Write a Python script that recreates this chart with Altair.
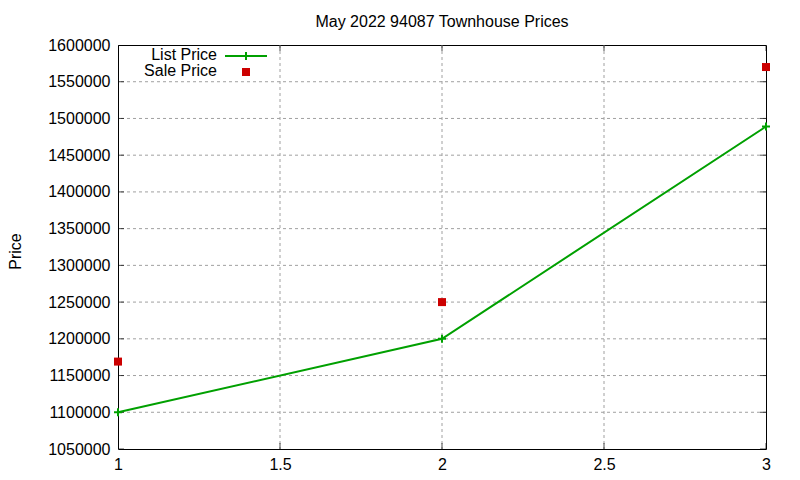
import altair as alt
import pandas as pd

# Data
x_vals = [1, 2, 3]
list_price = [1100000, 1200000, 1489000]
sale_price = [1169000, 1250000, 1570000]
series_names = ["List Price", "Sale Price"]
x_ticks = [1, 1.5, 2, 2.5, 3]
y_ticks = [1050000, 1100000, 1150000, 1200000, 1250000, 1300000, 1350000,
           1400000, 1450000, 1500000, 1550000, 1600000]
title_text = "May 2022 94087 Townhouse Prices"
y_title = "Price"

FONT = "Liberation Sans"
GREEN = "#00a000"
RED = "#cc0000"
GRID = "#a0a0a0"
PLUS = "M-1,0L1,0M0,-1L0,1"

df = pd.DataFrame({"x": x_vals, "list": list_price, "sale": sale_price})

xs = alt.Scale(domain=[x_ticks[0], x_ticks[-1]], nice=False, zero=False)
ys = alt.Scale(domain=[y_ticks[0], y_ticks[-1]], nice=False, zero=False)

xaxis = alt.Axis(values=x_ticks, format="~g", title=None, grid=False, domain=False,
                 ticks=False, labelFontSize=16, labelFont=FONT, labelColor="black",
                 labelPadding=7, labelFlush=False, labelOverlap=False)
yaxis = alt.Axis(values=y_ticks, format="d", title=y_title, grid=False, domain=False,
                 ticks=False, labelFontSize=16, labelFont=FONT, labelColor="black",
                 labelPadding=8, labelFlush=False, labelOverlap=False, labelBound=False,
                 titleFontSize=16, titleFont=FONT, titleFontWeight="normal",
                 titleColor="black", titleX=-103, titleY=206, titleAngle=270,
                 titleBaseline="middle", titleAlign="center")


def X(f):
    return alt.X(f, scale=xs, axis=xaxis)


def Y(f):
    return alt.Y(f, scale=ys, axis=yaxis)


# grid lines (excluding border positions)
ygrid_df = pd.DataFrame({"v": y_ticks[1:-1]})
xgrid_df = pd.DataFrame({"v": x_ticks[1:-1]})

ygrid = alt.Chart(ygrid_df).mark_rule(color=GRID, strokeDash=[3, 3], strokeWidth=1).encode(
    y=Y("v:Q"))
xgrid = alt.Chart(xgrid_df).mark_rule(color=GRID, strokeDash=[3, 3], strokeWidth=1).encode(
    x=X("v:Q"))

# inward ticks on all four sides
ytick_df = pd.DataFrame({"v": y_ticks * 2,
                         "side": [x_ticks[0]] * len(y_ticks) + [x_ticks[-1]] * len(y_ticks)})
xtick_df = pd.DataFrame({"v": x_ticks * 2,
                         "side": [y_ticks[0]] * len(x_ticks) + [y_ticks[-1]] * len(x_ticks)})
yticks = alt.Chart(ytick_df).mark_tick(orient="horizontal", size=12, thickness=1,
                                       color="black", clip=True).encode(
    x=X("side:Q"), y=Y("v:Q"))
xticks = alt.Chart(xtick_df).mark_tick(orient="vertical", size=12, thickness=1,
                                       color="black", clip=True).encode(
    x=X("v:Q"), y=Y("side:Q"))

base = alt.Chart(df)
line = base.mark_line(color=GREEN, strokeWidth=2).encode(x=X("x:Q"), y=Y("list:Q"))
plus = base.mark_point(shape=PLUS, size=64, filled=False, stroke=GREEN, strokeWidth=2,
                       opacity=1).encode(x=X("x:Q"), y=Y("list:Q"))
squares = base.mark_point(shape="square", size=64, filled=True, color=RED,
                          opacity=1).encode(x=X("x:Q"), y=Y("sale:Q"))

# key (legend) in gnuplot style
one = pd.DataFrame({"name": [series_names[0]]})
two = pd.DataFrame({"name": [series_names[1]]})
key_text1 = alt.Chart(one).mark_text(align="right", baseline="middle", fontSize=16,
                                     font=FONT, color="black").encode(
    text="name:N", x=alt.value(99), y=alt.value(10))
key_text2 = alt.Chart(two).mark_text(align="right", baseline="middle", fontSize=16,
                                     font=FONT, color="black").encode(
    text="name:N", x=alt.value(99), y=alt.value(26))
key_line = alt.Chart(one).mark_rule(color=GREEN, strokeWidth=2).encode(
    x=alt.value(107), x2=alt.value(149), y=alt.value(11))
key_plus = alt.Chart(one).mark_point(shape=PLUS, size=64, filled=False, stroke=GREEN,
                                     strokeWidth=2, opacity=1).encode(
    x=alt.value(128), y=alt.value(11))
key_sq = alt.Chart(two).mark_point(shape="square", size=64, filled=True, color=RED,
                                   opacity=1).encode(
    x=alt.value(128), y=alt.value(27))

chart = alt.layer(
    ygrid, xgrid, yticks, xticks, line, plus, squares,
    key_text1, key_text2, key_line, key_plus, key_sq
).properties(
    width=648, height=404,
    autosize=alt.AutoSizeParams(type="none"),
    padding={"left": 110, "top": 37, "right": 26, "bottom": 23},
    title=alt.TitleParams(title_text, fontSize=16, font=FONT, fontWeight="normal",
                          color="black", baseline="alphabetic", offset=2, dy=8,
                          anchor="middle", frame="group"),
    background="white",
).configure_view(stroke="black", strokeWidth=1).configure_axis(labelOverlap=False)

chart.save("out.html", embed_options={"renderer": "svg", "actions": False})
